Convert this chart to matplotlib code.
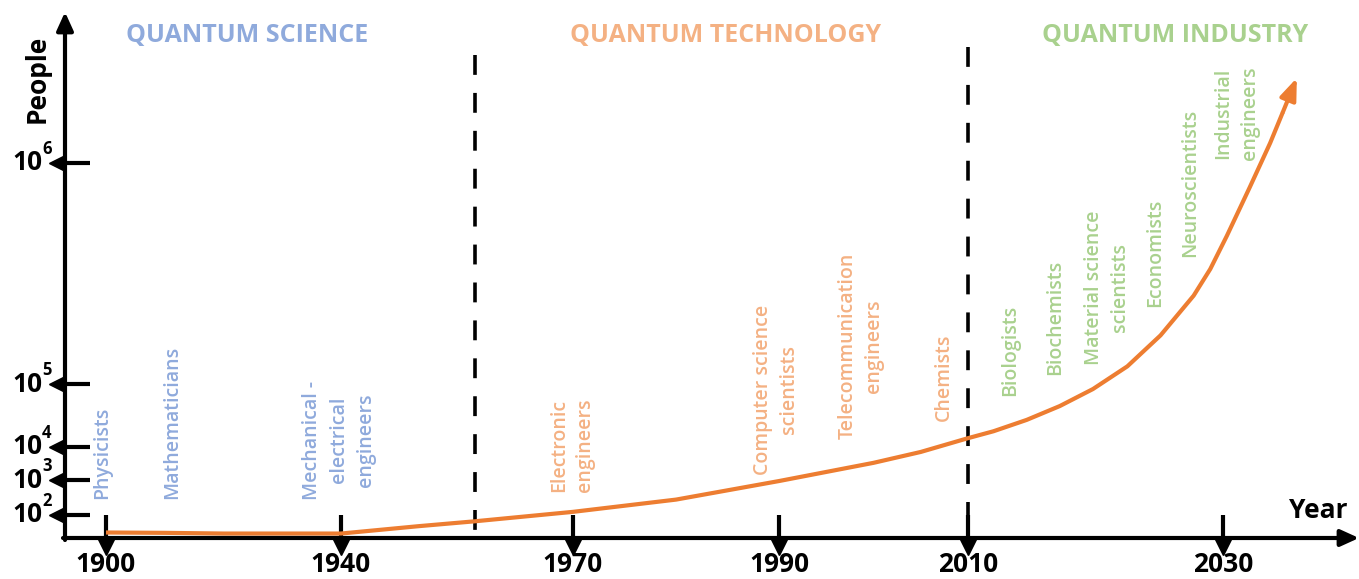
import numpy as np
import matplotlib
matplotlib.use('Agg')
import matplotlib.pyplot as plt
import matplotlib.transforms as mtransforms

tick_years = [1900, 1940, 1970, 1990, 2010, 2030]
tick_log10_people = [2, 3, 4, 5, 6]
tick_exps = ['2', '3', '4', '5', '6']

era_names = ['QUANTUM SCIENCE', 'QUANTUM TECHNOLOGY', 'QUANTUM INDUSTRY']
era_bounds = [1957.3, 2010]

curve_years = [1900, 1910, 1920, 1930, 1940, 1950, 1957.3, 1970, 1980, 1990,
               2000, 2005, 2010, 2012, 2014.6, 2017.2, 2019.8, 2022.5, 2025.1,
               2027.7, 2029.0, 2030.3, 2032.1, 2033.7, 2034.7, 2035.8]
curve_log10_people = [1.50, 1.49, 1.47, 1.47, 1.47, 1.68, 1.82, 2.09, 2.44, 2.97,
                      3.52, 3.85, 4.14, 4.25, 4.43, 4.65, 4.92, 5.08, 5.22,
                      5.40, 5.52, 5.67, 5.89, 6.09, 6.23, 6.385]

science_jobs = ['Physicists', 'Mathematicians', 'Mechanical -\nelectrical\nengineers']
technology_jobs = ['Electronic\nengineers', 'Computer science\nscientists',
                   'Telecommunication\nengineers', 'Chemists']
industry_jobs = ['Biologists', 'Biochemists', 'Material science\nscientists',
                 'Economists', 'Neuroscientists', 'Industrial\nengineers']

# ---- layout (pixels of the 1359x579 picture) ----
W, H = 1359, 579
# the original is schematic: both axes are stretched piecewise between ticks
x_anchor_years = [1880, 1900, 1940, 1970, 1990, 2010, 2030, 2045]
x_anchor_px = [-11.5, 106, 341, 573, 779, 968, 1223, 1414]
y_anchor_log = [0, 2, 3, 4, 5, 6, 7]
y_anchor_px = [585, 515, 480, 447, 384, 163, -58]

BLUE = '#8FAADC'
ORANGE = '#F4B183'
GREEN = '#A9D18E'
CURVE = '#ED7D31'

plt.rcParams['font.family'] = ['Open Sans', 'DejaVu Sans']


def fx(v):
    return np.interp(v, x_anchor_years, x_anchor_px)


def ix(p):
    return np.interp(p, x_anchor_px, x_anchor_years)


def fy(v):
    return -np.interp(v, y_anchor_log, y_anchor_px)


def iy(t):
    return np.interp(-np.asarray(t), y_anchor_px[::-1], y_anchor_log[::-1])


fig = plt.figure(figsize=(W / 100, H / 100), dpi=100)
ax = fig.add_axes([0, 0, 1, 1])
ax.set_xscale('function', functions=(fx, ix))
ax.set_yscale('function', functions=(fy, iy))
ax.set_xlim(ix(0), ix(W))
ax.set_ylim(iy(-H), iy(0))
ax.axis('off')

pix = mtransforms.Affine2D().scale(1 / W, -1 / H).translate(0, 1) + fig.transFigure
bx = mtransforms.blended_transform_factory(ax.transData, pix)
by = mtransforms.blended_transform_factory(pix, ax.transData)

# axes with arrow heads
axis_arrow = dict(arrowstyle='-|>,head_length=1.1,head_width=0.5', mutation_scale=10,
                  lw=3, color='black', shrinkA=0, shrinkB=0)
ax.annotate('', xy=(65, 12), xytext=(65, 540), xycoords=pix, textcoords=pix,
            arrowprops=axis_arrow)
ax.annotate('', xy=(1359, 538), xytext=(63, 538), xycoords=pix, textcoords=pix,
            arrowprops=axis_arrow)

# x ticks: stem above the axis, triangle below
for yr in tick_years:
    ax.plot([yr, yr], [515, 538], color='black', lw=3, transform=bx, solid_capstyle='butt')
    ax.text(yr, 572, str(yr), transform=bx, ha='center', va='baseline',
            fontsize=19, fontweight='bold')
ax.plot(tick_years, [546] * len(tick_years), 'v', color='black', ms=13, transform=bx)

# y ticks: stem right of the axis, triangle left
for lg, ex in zip(tick_log10_people, tick_exps):
    ax.plot([65, 90], [lg, lg], color='black', lw=3, transform=by, solid_capstyle='butt')
    ax.text(43, lg, '10', transform=by, ha='right', va='center',
            fontsize=19, fontweight='bold')
    ax.annotate(ex, xy=(42, lg), xycoords=by, xytext=(0, 14), textcoords='offset pixels',
                ha='left', va='center', fontsize=12, fontweight='bold')
ax.plot([57] * len(tick_log10_people), tick_log10_people, '<', color='black', ms=12,
        transform=by)

fig.text(37 / W, 1 - 79 / H, 'People', rotation=90, ha='center', va='center',
         fontsize=19, fontweight='bold')
fig.text(1318 / W, 1 - 511 / H, 'Year', ha='center', va='center',
         fontsize=19, fontweight='bold')

# era separators
ax.plot([era_bounds[0]] * 2, [55, 538], transform=bx, color='black', lw=2.6,
        dashes=(5.5, 5))
ax.plot([era_bounds[1]] * 2, [47, 538], transform=bx, color='black', lw=2.6,
        dashes=(5.5, 5))

# era titles
for name, cx, col in zip(era_names, [247, 726, 1175], [BLUE, ORANGE, GREEN]):
    fig.text(cx / W, 1 - 35 / H, name, ha='center', va='center', color=col,
             fontsize=18, fontweight='bold')

# professions
job_groups = [
    (science_jobs, [(102, 453), (172, 422), (339, 440)], BLUE),
    (technology_jobs, [(572, 445), (776, 390), (861, 346), (944, 377)], ORANGE),
    (industry_jobs, [(1010, 350), (1055, 317), (1107, 288), (1155, 253),
                     (1190, 183), (1237, 113)], GREEN),
]
for jobs, spots, col in job_groups:
    for job, (px, py) in zip(jobs, spots):
        fig.text(px / W, 1 - py / H, job, rotation=90, ha='center', va='center',
                 multialignment='center', linespacing=1.45, color=col,
                 fontsize=14, fontweight='semibold')

# growth curve
ax.plot(curve_years[:-1], curve_log10_people[:-1], color=CURVE, lw=3,
        solid_capstyle='butt', solid_joinstyle='round')
ax.annotate('', xy=(curve_years[-1], curve_log10_people[-1]),
            xytext=(curve_years[-2], curve_log10_people[-2]),
            arrowprops=dict(arrowstyle='-|>,head_length=1.3,head_width=0.5',
                            mutation_scale=10, lw=3, color=CURVE,
                            shrinkA=0, shrinkB=0))

fig.savefig('out.png', dpi=100)
